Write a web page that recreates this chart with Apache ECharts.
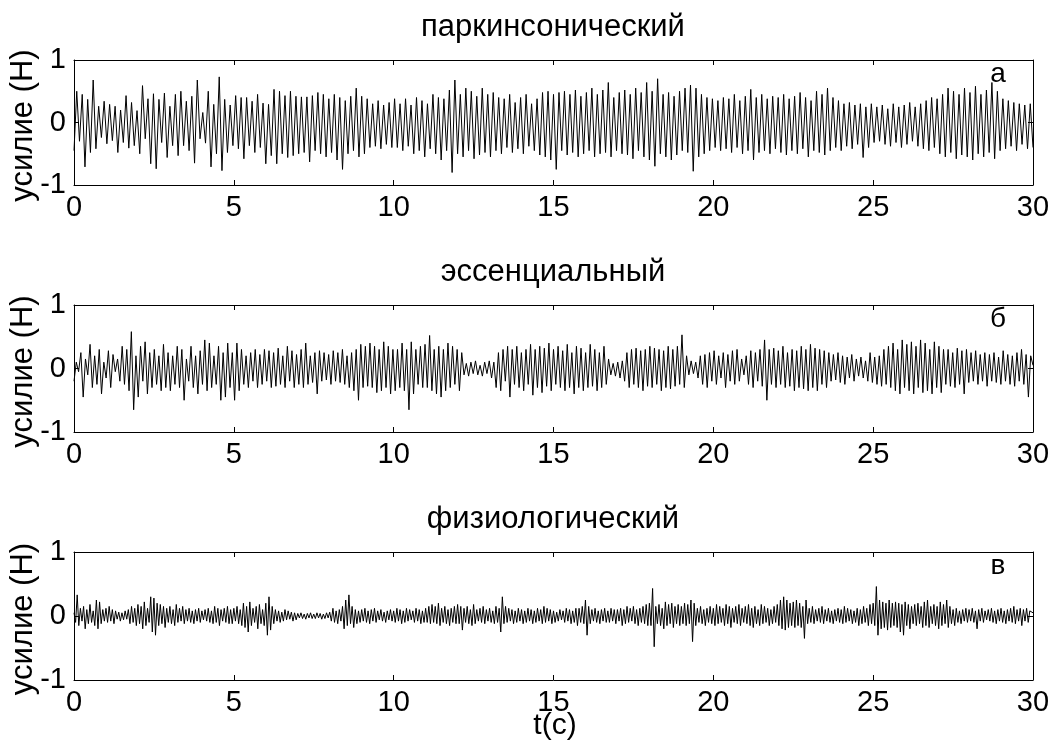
<!DOCTYPE html>
<html>
<head>
<meta charset="utf-8">
<script src="https://cdn.jsdelivr.net/npm/echarts@6/dist/echarts.min.js"></script>
<style>
  html, body { margin: 0; padding: 0; background: #fff; }
  #chart { width: 1059px; height: 747px; }
</style>
</head>
<body>
<div id="chart"></div>
<script>
// значения усилия (Н); время равномерно 0..30 с
const titles = ['паркинсонический', 'эссенциальный', 'физиологический'];
const marks = ['а', 'б', 'в'];
const xTicks = [0, 5, 10, 15, 20, 25, 30];

const parkinson = [
  -.45,.50,-.30,.45,-.71,.37,-.48,.68,-.42,.26,-.24,.34,-.34,.29,-.29,.26,-.48,.20,-.32,.43,-.41,.32,-.37,.19,-.50,.59,-.26,.38,-.66,.46,-.74,.37,-.32,.47,-.56,.26,-.37,.45,-.53,.50,-.37,.34,-.45,.42,-.65,.68,-.26,.16,-.33,.50,-.71,.29,-.50,.73,-.77,.37,-.48,.28,
  -.37,.43,-.42,.40,-.58,.40,-.37,.34,-.48,.45,-.40,.31,-.66,.29,-.53,.53,-.66,.50,-.50,.43,-.56,.50,-.53,.42,-.50,.41,-.48,.41,-.63,.43,
  -.45,.48,-.50,.45,-.55,.38,-.48,.45,-.60,.40,-.75,.35,-.50,.42,-.45,.55,-.55,.42,-.50,.38,-.40,.30,-.38,.35,-.42,.28,-.35,.32,-.40,.38,
  -.40,.30,-.45,.38,-.38,.28,-.50,.40,-.45,.35,-.55,.30,-.42,.45,-.50,.40,-.60,.38,-.45,.52,-.80,.68,-.50,.45,-.55,.55,-.45,.50,-.58,.42,-.52,.55,-.48,.45,-.55,.48,-.45,.40,-.50,.38,-.40,.45,-.48,.32,-.42,.40,-.50,.45,-.38,.30,-.45,.38,-.52,.48,-.55,.50,-.60,.45,
  -.75,.48,-.45,.50,-.52,.45,-.48,.52,-.55,.42,-.50,.48,-.45,.55,-.55,.45,-.50,.52,-.48,.64,-.55,.40,-.45,.48,-.50,.52,-.52,.45,-.58,.55,-.45,.48,-.55,.64,-.60,.50,-.70,.70,-.50,.45,-.55,.48,-.60,.42,-.52,.50,-.45,.55,-.48,.60,-.78,.55,-.55,.45,-.50,.40,-.45,.38,
  -.40,.35,-.45,.40,-.42,.38,-.48,.45,-.40,.35,-.50,.42,-.45,.53,-.60,.40,-.48,.45,-.45,.38,-.50,.42,-.42,.40,-.48,.45,-.52,.38,-.45,.42,-.50,.48,-.42,.40,-.55,.35,-.45,.50,-.48,.45,-.52,.55,-.45,.40,-.40,.35,-.45,.30,-.38,.32,-.42,.28,-.35,.30,-.56,.25,-.40,.30,
  -.32,.25,-.30,.28,-.35,.22,-.38,.30,-.32,.25,-.40,.28,-.35,.32,-.30,.25,-.38,.30,-.42,.35,-.45,.40,-.40,.38,-.50,.45,-.55,.55,-.48,.50,-.58,.45,-.52,.55,-.55,.48,-.60,.58,-.50,.45,-.55,.52,-.48,.64,-.58,.50,-.45,.38,-.42,.35,-.38,.32,-.45,.30,-.35,.28,-.42,.30,-.40
];

const essential = [
  -.20,.10,-.05,.25,-.45,.15,-.10,.38,-.30,.20, -.25,.30,-.40,.10,-.15,.28,-.30,.22,-.05,.15,
  -.20,.35,-.25,.30,-.35,.58,-.65,.20,-.45,.35, -.20,.42,-.40,.25,-.30,.30,-.25,.20,-.35,.38,
  -.30,.25,-.35,.20,-.25,.35,-.30,.30,-.50,.15, -.20,.35,-.30,.20,-.40,.28,-.25,.45,-.35,.40,
  -.30,.20,-.25,.35,-.50,.25,-.45,.40,-.30,.25, -.50,.40,-.35,.30,-.25,.20,-.30,.25,-.20,.30,
  -.30,.22,-.25,.30,-.20,.28,-.30,.25,-.28,.32, -.25,.20,-.30,.35,-.20,.28,-.30,.22,-.25,.30,
  -.30,.40,-.25,.20,-.22,.25,-.40,.28,-.20,.25, -.18,.22,-.25,.28,-.20,.25,-.22,.30,-.25,.20,
  -.30,.25,-.35,.30,-.50,.38,-.30,.35,-.28,.40, -.30,.35,-.38,.30,-.35,.42,-.30,.35,-.40,.30,
  -.35,.30,-.30,.40,-.35,.30,-.65,.42,-.40,.30, -.25,.35,-.30,.38,-.30,.52,-.35,.30,-.40,.35,
  -.45,.30,-.35,.40,-.30,.35,-.25,.30,-.35,.25, -.10,.08,-.12,.10,-.08,.12,-.10,.05,-.12,.10,
  -.08,.12,-.15,.10,-.30,.25,-.35,.30,-.20,.35, -.45,.30,-.25,.35,-.30,.25,-.35,.30,-.25,.38,
  -.42,.30,-.30,.35,-.38,.32,-.28,.40,-.35,.30, -.25,.35,-.30,.28,-.35,.38,-.30,.25,-.40,.35,
  -.30,.32,-.35,.25,-.30,.38,-.28,.30,-.35,.25, -.30,.35,-.25,.15,-.10,.08,-.12,.10,-.15,.12,
  -.20,.25,-.30,.30,-.25,.32,-.30,.28,-.35,.30, -.28,.35,-.30,.32,-.25,.30,-.35,.28,-.30,.35,
  -.32,.30,-.28,.35,-.25,.53,-.30,.20,-.10,.12, -.08,.10,-.15,.20,-.25,.22,-.30,.25,-.20,.28,
  -.25,.20,-.15,.25,-.30,.22,-.20,.28,-.25,.30, -.20,.15,-.10,.20,-.25,.28,-.30,.25,-.20,.30,
  -.28,.45,-.50,.30,-.25,.32,-.30,.28,-.25,.35, -.30,.25,-.28,.30,-.35,.28,-.30,.35,-.32,.30,
  -.35,.38,-.30,.32,-.35,.30,-.25,.28,-.30,.25, -.20,.22,-.18,.25,-.22,.20,-.25,.18,-.15,.22,
  -.20,.15,-.12,.18,-.15,.12,-.20,.25,-.22,.18, -.25,.20,-.28,.30,-.25,.35,-.30,.40,-.35,.30,
  -.40,.45,-.30,.38,-.35,.42,-.40,.35,-.30,.45, -.38,.40,-.35,.30,-.40,.42,-.30,.35,-.38,.30,
  -.25,.30,-.28,.25,-.30,.32,-.25,.28,-.40,.30, -.22,.25,-.20,.28,-.25,.22,-.20,.25,-.28,.22,
  -.20,.25,-.22,.18,-.25,.28,-.20,.22,-.25,.20, -.28,.25,-.20,.30,-.25,.22,-.45,.20,.05
];

const physiological = [
  .05,-.10,.33,-.15,.12,-.08,.15,-.20,.10,-.12,.18,-.10,.08,-.15,.25,-.20,.22,-.12,.10,-.08,
  .12,-.10,.15,-.08,.10,-.12,.08,-.05,.06,-.08,.05,-.06,.08,-.05,.10,-.12,.15,-.10,.12,-.15,
  .18,-.12,.15,-.20,.22,-.15,.12,-.10,.30,-.25,.28,-.30,.20,-.15,.18,-.12,.15,-.18,.12,-.10,
  .15,-.12,.10,-.15,.18,-.10,.12,-.08,.15,-.12,.10,-.08,.12,-.10,.08,-.12,.10,-.08,.12,-.10,
  .08,-.06,.10,-.08,.12,-.10,.08,-.12,.15,-.10,.12,-.15,.10,-.08,.12,-.10,.15,-.12,.10,-.12,
  .12,-.08,.15,-.12,.10,-.15,.20,-.18,.15,-.25,.22,-.15,.12,-.10,.15,-.20,.18,-.12,.10,-.15,
  .20,-.30,.30,-.22,.15,-.12,.10,-.08,.08,-.10,.06,-.08,.10,-.06,.08,-.05,.06,-.08,.05,-.06,
  .04,-.03,.05,-.04,.03,-.05,.04,-.03,.05,-.04,.03,-.04,.05,-.03,.04,-.05,.03,-.04,.05,-.03,
  .06,-.08,.12,-.10,.08,-.12,.10,-.08,.15,-.20,.25,-.15,.33,-.12,.15,-.18,.10,-.12,.08,-.10,
  .10,-.08,.12,-.10,.08,-.12,.10,-.08,.12,-.10,.08,-.06,.10,-.08,.06,-.10,.08,-.06,.10,-.08,
  .08,-.10,.12,-.08,.10,-.12,.08,-.10,.12,-.08,.10,-.06,.08,-.10,.12,-.08,.10,-.12,.08,-.10,
  .12,-.10,.15,-.12,.18,-.10,.15,-.12,.20,-.15,.12,-.10,.15,-.12,.10,-.15,.12,-.10,.15,-.12,
  .18,-.12,.15,-.22,.12,-.10,.15,-.12,.10,-.15,.18,-.12,.10,-.08,.12,-.10,.15,-.12,.10,-.08,
  .12,-.10,.08,-.12,.15,-.10,.12,-.25,.30,-.12,.15,-.10,.12,-.08,.10,-.12,.08,-.10,.12,-.08,
  .10,-.12,.08,-.10,.12,-.08,.10,-.12,.08,-.10,.12,-.08,.10,-.12,.15,-.10,.12,-.08,.10,-.12,
  .08,-.10,.06,-.08,.10,-.06,.08,-.10,.12,-.08,.10,-.12,.08,-.10,.12,-.15,.12,-.10,.15,-.12,
  .25,-.30,.15,-.12,.10,-.08,.12,-.10,.08,-.12,.10,-.08,.12,-.10,.08,-.10,.12,-.08,.10,-.12,
  .10,-.08,.12,-.15,.10,-.12,.15,-.10,.12,-.08,.15,-.12,.10,-.15,.12,-.10,.15,-.12,.18,-.15,
  .20,-.15,.43,-.48,.15,-.12,.18,-.15,.12,-.20,.22,-.15,.18,-.12,.20,-.18,.15,-.12,.18,-.15,
  .15,-.12,.20,-.15,.18,-.12,.25,-.40,.20,-.15,.12,-.10,.15,-.12,.10,-.15,.12,-.10,.15,-.12,
  .12,-.15,.18,-.12,.15,-.10,.12,-.15,.18,-.12,.15,-.18,.12,-.10,.15,-.12,.18,-.15,.12,-.10,
  .15,-.12,.18,-.15,.12,-.18,.15,-.12,.10,-.15,.18,-.12,.15,-.10,.12,-.15,.10,-.12,.15,-.10,
  .18,-.15,.25,-.20,.30,-.22,.25,-.18,.20,-.15,.22,-.18,.25,-.15,.20,-.18,.15,-.35,.25,-.12,
  .12,-.10,.15,-.12,.10,-.08,.12,-.10,.15,-.12,.10,-.08,.12,-.10,.08,-.12,.10,-.08,.12,-.10,
  .10,-.12,.15,-.10,.12,-.08,.10,-.12,.08,-.10,.12,-.15,.10,-.12,.15,-.10,.12,-.15,.18,-.12,
  .20,-.15,.46,-.30,.25,-.20,.22,-.18,.20,-.22,.25,-.18,.20,-.15,.22,-.18,.20,-.25,.18,-.30,
  .22,-.15,.18,-.20,.15,-.12,.18,-.15,.20,-.12,.15,-.18,.22,-.15,.25,-.18,.15,-.12,.18,-.15,
  .15,-.20,.22,-.15,.18,-.12,.25,-.18,.15,-.12,.10,-.15,.12,-.10,.08,-.12,.10,-.08,.12,-.10,
  .10,-.08,.12,-.10,.08,-.20,.10,-.08,.12,-.10,.08,-.06,.10,-.08,.12,-.10,.08,-.12,.10,-.08,
  .12,-.10,.08,-.12,.10,-.08,.12,-.10,.15,-.12,.10,-.08,.12,-.15,.10,-.08,.12,-.10,.08,.05,
  .05
];

const signals = [parkinson, essential, physiological];

const FONT = "'Liberation Sans', Arial, sans-serif";
const chart = echarts.init(document.getElementById('chart'));

const grids = [
  { left: 74, right: 26, top: 60, height: 125 },
  { left: 74, right: 26, top: 305, height: 127 },
  { left: 74, right: 26, top: 552, height: 128 }
];

const xAxes = [], yAxes = [], series = [], graphic = [];

grids.forEach((g, k) => {
  // нижняя ось с подписями и верхняя только с рисками
  xAxes.push({
    gridIndex: k, type: 'value', min: 0, max: 30, interval: 5, position: 'bottom',
    axisLine: { onZero: false, lineStyle: { color: '#000', width: 1 } },
    axisTick: { inside: true, length: 5, lineStyle: { color: '#000' } },
    axisLabel: { color: '#000', fontSize: 29, fontFamily: FONT, margin: 8 },
    splitLine: { show: false }
  });
  xAxes.push({
    gridIndex: k, type: 'value', min: 0, max: 30, interval: 5, position: 'top',
    axisLine: { onZero: false, lineStyle: { color: '#000', width: 1 } },
    axisTick: { inside: true, length: 5, lineStyle: { color: '#000' } },
    axisLabel: { show: false }, splitLine: { show: false }
  });
  yAxes.push({
    gridIndex: k, type: 'value', min: -1, max: 1, interval: 1, position: 'left',
    axisLine: { show: true, onZero: false, lineStyle: { color: '#000', width: 1 } },
    axisTick: { show: true, inside: true, length: 5, lineStyle: { color: '#000' } },
    axisLabel: { color: '#000', fontSize: 29, fontFamily: FONT, margin: 8 },
    splitLine: { show: false }
  });
  yAxes.push({
    gridIndex: k, type: 'value', min: -1, max: 1, interval: 1, position: 'right',
    axisLine: { show: true, onZero: false, lineStyle: { color: '#000', width: 1 } },
    axisTick: { show: true, inside: true, length: 5, lineStyle: { color: '#000' } },
    axisLabel: { show: false }, splitLine: { show: false }
  });

  const vals = signals[k];
  const dt = 30 / (vals.length - 1);
  series.push({
    type: 'line', xAxisIndex: 2 * k, yAxisIndex: 2 * k,
    data: vals.map((v, i) => [i * dt, v]),
    showSymbol: false, symbol: 'none', sampling: null,
    lineStyle: { color: '#000', width: 1 },
    animation: false
  });

  const midY = g.top + g.height / 2;
  graphic.push({
    type: 'text', x: 553, y: g.top - 33,
    style: { text: titles[k], font: '31px ' + FONT, fill: '#000', textAlign: 'center', textVerticalAlign: 'middle' }
  });
  graphic.push({
    type: 'text', x: 998, y: g.top + 14,
    style: { text: marks[k], font: '28px ' + FONT, fill: '#000', textAlign: 'center', textVerticalAlign: 'middle' }
  });
  graphic.push({
    type: 'text', x: 23, y: midY + 3, rotation: Math.PI / 2,
    style: { text: 'усилие (Н)', font: '31px ' + FONT, fill: '#000', textAlign: 'center', textVerticalAlign: 'middle' }
  });
});

graphic.push({
  type: 'text', x: 555, y: 726,
  style: { text: 't(c)', font: '30px ' + FONT, fill: '#000', textAlign: 'center', textVerticalAlign: 'middle' }
});

chart.setOption({
  backgroundColor: '#fff',
  animation: false,
  grid: grids,
  xAxis: xAxes,
  yAxis: yAxes,
  series: series,
  graphic: graphic
});
</script>
</body>
</html>
